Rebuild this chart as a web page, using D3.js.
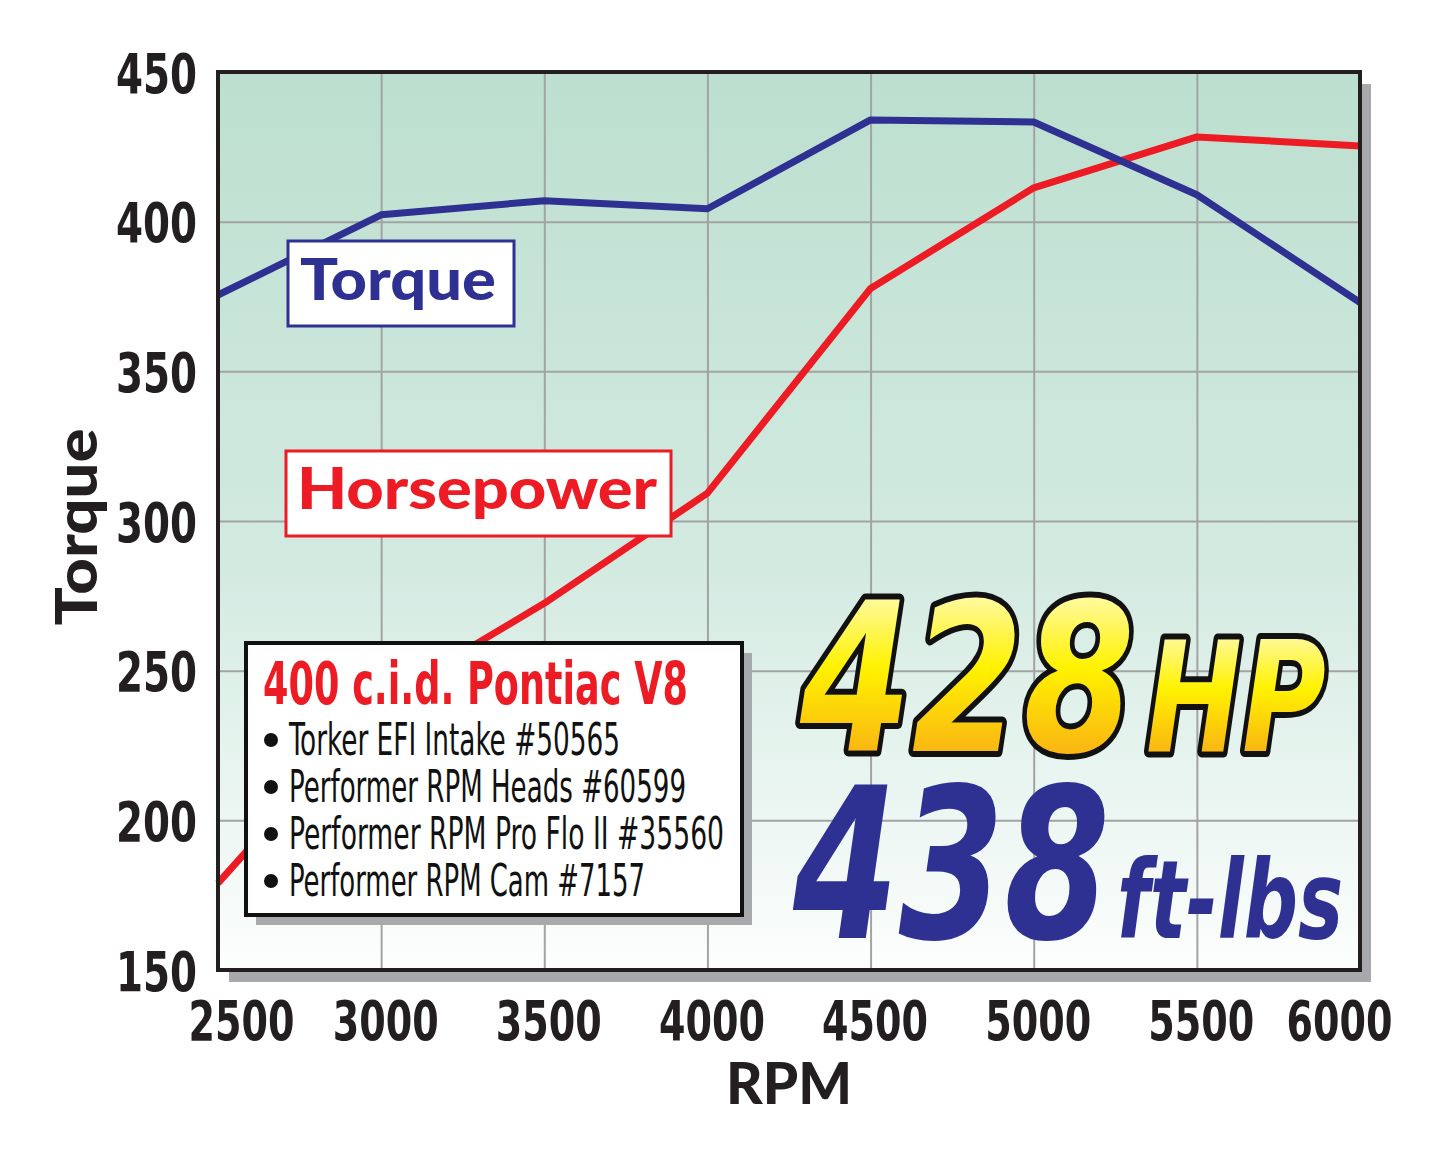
<!doctype html>
<html>
<head>
<meta charset="utf-8">
<script src="https://cdn.jsdelivr.net/npm/d3@7/dist/d3.min.js"></script>
<style>
html,body{margin:0;background:#fff;overflow:hidden;}
.cond{font-family:'Liberation Sans Narrow','DejaVu Sans',sans-serif;font-stretch:condensed;}
.heavy{font-family:Lato,'Open Sans','DejaVu Sans',sans-serif;font-weight:900;}
</style>
</head>
<body>
<script>
// dyno data
var rpm = [2500, 3000, 3500, 4000, 4500, 5000, 5500, 6000];
var torque = [375.5, 402.3, 407, 404.3, 434, 433.3, 409, 373];
var hp = [179, 240, 272.5, 309.3, 377.7, 411.3, 428.3, 425.3];
var yTicks = [150, 200, 250, 300, 350, 400, 450];
var xTicks = [2500, 3000, 3500, 4000, 4500, 5000, 5500, 6000];
var specTitle = "400 c.i.d. Pontiac V8";
var specLines = ["Torker EFI Intake #50565", "Performer RPM Heads #60599",
                 "Performer RPM Pro Flo II #35560", "Performer RPM Cam #7157"];

var W = 1445, H = 1159,
    pL = 218, pT = 72, pR = 1360, pB = 970;

var svg = d3.select("body").append("svg")
    .attr("width", W).attr("height", H);

var defs = svg.append("defs");
var bg = defs.append("linearGradient").attr("id", "bg")
    .attr("x1", 0).attr("y1", 0).attr("x2", 0).attr("y2", 1);
bg.append("stop").attr("offset", "0%").attr("stop-color", "#bcdfcf");
bg.append("stop").attr("offset", "55%").attr("stop-color", "#d3eae1");
bg.append("stop").attr("offset", "100%").attr("stop-color", "#fcfefd");

var gold = defs.append("linearGradient").attr("id", "gold")
    .attr("x1", 0).attr("y1", 0).attr("x2", 0).attr("y2", 1);
gold.append("stop").attr("offset", "0%").attr("stop-color", "#fffef0");
gold.append("stop").attr("offset", "45%").attr("stop-color", "#fff200");
gold.append("stop").attr("offset", "100%").attr("stop-color", "#f7941d");

var x = d3.scaleLinear().domain([2500, 6000]).range([pL, pR]);
var y = d3.scaleLinear().domain([150, 450]).range([pB, pT]);
var fmt = d3.format("d");

// drop shadow + background
svg.append("rect").attr("x", pL + 11).attr("y", pT + 12)
    .attr("width", pR - pL).attr("height", pB - pT)
    .attr("fill", "#a7a9ac");
svg.append("rect").attr("x", pL).attr("y", pT)
    .attr("width", pR - pL).attr("height", pB - pT)
    .attr("fill", "url(#bg)");

// grid
svg.append("g").attr("transform", "translate(" + pL + ",0)")
    .call(d3.axisLeft(y).tickValues(yTicks).tickSize(-(pR - pL)).tickFormat(""))
    .call(function(g){ g.select(".domain").remove(); })
    .selectAll("line").attr("stroke", "#a3a3a3").attr("stroke-width", 2);
svg.append("g").attr("transform", "translate(0," + pB + ")")
    .call(d3.axisBottom(x).tickValues(xTicks).tickSize(-(pB - pT)).tickFormat(""))
    .call(function(g){ g.select(".domain").remove(); })
    .selectAll("line").attr("stroke", "#a3a3a3").attr("stroke-width", 2);

// curves
var line = d3.line().x(function(d){ return x(d[0]); }).y(function(d){ return y(d[1]); });
svg.append("path").datum(d3.zip(rpm, hp)).attr("d", line)
    .attr("fill", "none").attr("stroke", "#ed1c24").attr("stroke-width", 7)
    .attr("stroke-linejoin", "round");
svg.append("path").datum(d3.zip(rpm, torque)).attr("d", line)
    .attr("fill", "none").attr("stroke", "#2e3192").attr("stroke-width", 7)
    .attr("stroke-linejoin", "round");

// series labels
function tag(bx, by, bw, bh, color, txt, tx, ty, tl){
    svg.append("rect").attr("x", bx).attr("y", by).attr("width", bw).attr("height", bh)
        .attr("fill", "#fff").attr("stroke", color).attr("stroke-width", 3);
    svg.append("text").attr("class", "heavy").attr("x", tx).attr("y", ty)
        .attr("font-size", 58).attr("fill", color)
        .attr("textLength", tl).attr("lengthAdjust", "spacingAndGlyphs").text(txt);
}
tag(288, 241, 226, 85, "#2e3192", "Torque", 300, 300, 196);
tag(286, 451, 385, 85, "#ed1c24", "Horsepower", 297, 509, 360);

// spec box
svg.append("rect").attr("x", 256).attr("y", 653).attr("width", 496).attr("height", 272)
    .attr("fill", "#a7a9ac");
svg.append("rect").attr("x", 246).attr("y", 643).attr("width", 496).attr("height", 272)
    .attr("fill", "#fff").attr("stroke", "#111").attr("stroke-width", 4);
svg.append("text").attr("class", "cond").attr("x", 263).attr("y", 704)
    .attr("font-size", 58).attr("font-weight", "bold").attr("fill", "#ed1c24")
    .attr("textLength", 425).attr("lengthAdjust", "spacingAndGlyphs").text(specTitle);
var lineEnds = [620, 686, 724, 645];
specLines.forEach(function(s, i){
    var by = 755 + i * 47;
    svg.append("circle").attr("cx", 271).attr("cy", by - 15).attr("r", 7).attr("fill", "#111");
    svg.append("text").attr("class", "cond").attr("x", 289).attr("y", by)
        .attr("font-size", 45).attr("fill", "#111")
        .attr("textLength", lineEnds[i] - 289).attr("lengthAdjust", "spacingAndGlyphs").text(s);
});

// headline numbers
function big(txt, tx, ty, fs, tl, fill, outline){
    var t = svg.append("text").attr("x", tx).attr("y", ty)
        .attr("font-family", "'DejaVu Sans',sans-serif")
        .attr("font-weight", "bold").attr("font-style", "italic")
        .attr("font-size", fs).attr("fill", fill)
        .attr("textLength", tl).attr("lengthAdjust", "spacingAndGlyphs").text(txt);
    if (outline) t.attr("stroke", "#111").attr("stroke-width", 12)
        .attr("stroke-linejoin", "round").attr("paint-order", "stroke");
}
big("428", 800, 751, 206, 335, "url(#gold)", true);
big("HP", 1146, 751, 154, 180, "url(#gold)", true);
big("438", 793, 938, 210, 317, "#2e3192", false);
big("ft-lbs", 1117, 938, 108, 226, "#2e3192", false);

// frame
svg.append("rect").attr("x", pL).attr("y", pT)
    .attr("width", pR - pL).attr("height", pB - pT)
    .attr("fill", "none").attr("stroke", "#231f20").attr("stroke-width", 4);

// axis labels
var ya = svg.append("g").attr("transform", "translate(" + pL + ",0)")
    .call(d3.axisLeft(y).tickValues(yTicks).tickFormat(fmt).tickSize(0).tickPadding(21));
ya.select(".domain").remove();
ya.selectAll("text").attr("class", "cond").attr("font-size", 56)
    .attr("font-weight", "bold").attr("fill", "#231f20").attr("dy", "0.36em")
    .attr("textLength", 81).attr("lengthAdjust", "spacingAndGlyphs");

var xa = svg.append("g").attr("transform", "translate(0," + pB + ")")
    .call(d3.axisBottom(x).tickValues(xTicks).tickFormat(fmt).tickSize(0));
xa.select(".domain").remove();
xa.selectAll("text").attr("class", "cond").attr("font-size", 56)
    .attr("font-weight", "bold").attr("fill", "#231f20")
    .attr("y", 70).attr("dy", null)
    .attr("textLength", 106).attr("lengthAdjust", "spacingAndGlyphs")
    .attr("text-anchor", function(d){ return d === 2500 ? "start" : d === 6000 ? "end" : "middle"; })
    .attr("dx", function(d){ return d === 2500 ? -30 : d === 6000 ? 32 : 4; });

svg.append("text").attr("class", "heavy").attr("x", 789).attr("y", 1104)
    .attr("text-anchor", "middle").attr("font-size", 58).attr("fill", "#231f20")
    .attr("textLength", 126).attr("lengthAdjust", "spacingAndGlyphs").text("RPM");
svg.append("text").attr("class", "heavy")
    .attr("transform", "translate(97,527) rotate(-90)")
    .attr("text-anchor", "middle").attr("font-size", 58).attr("fill", "#231f20")
    .attr("textLength", 197).attr("lengthAdjust", "spacingAndGlyphs").text("Torque");
</script>
</body>
</html>
